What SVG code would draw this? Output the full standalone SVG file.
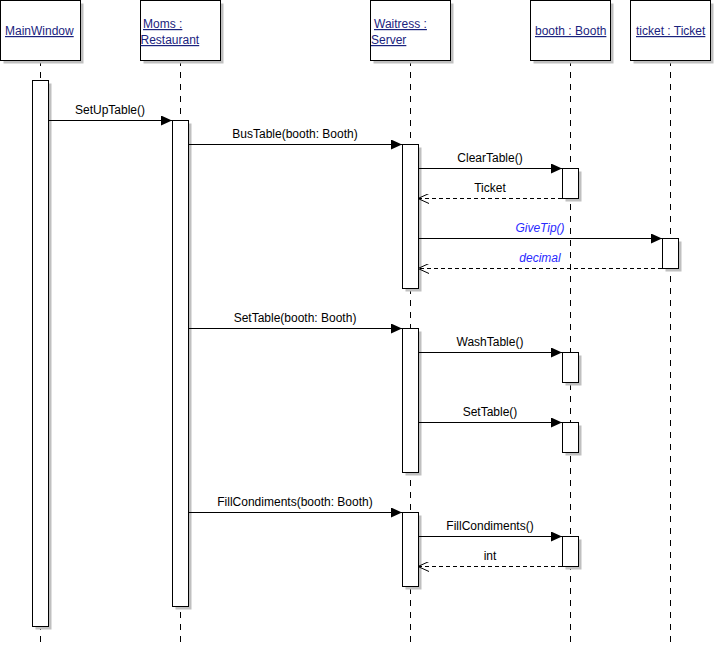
<svg xmlns="http://www.w3.org/2000/svg" width="715" height="651" viewBox="0 0 715 651">
<style>
.hdr{fill:#fff;stroke:#000;stroke-width:1}
.shd{fill:#c0c0c0}
.life{stroke:#000;stroke-width:1;stroke-dasharray:6,6;fill:none}
.act{fill:#fff;stroke:#000;stroke-width:1}
.msg{stroke:#000;stroke-width:1;fill:none}
.ret{stroke:#000;stroke-width:1;fill:none;stroke-dasharray:4,3}
.ht{font-family:"Liberation Sans",Arial,sans-serif;font-size:12px;fill:#1a237e;text-decoration:underline}
.mt{font-family:"Liberation Sans",Arial,sans-serif;font-size:12px;fill:#000;text-anchor:middle}
.bt{font-family:"Liberation Sans",Arial,sans-serif;font-size:12px;fill:#2a2aff;font-style:italic;text-anchor:middle}
</style>
<defs>
<marker id="filled" markerWidth="12" markerHeight="10" refX="11" refY="5" orient="auto" markerUnits="userSpaceOnUse">
<path d="M0,0 L11,5 L0,10 z" fill="#000"/>
</marker>
<marker id="open" markerWidth="12" markerHeight="10" refX="11" refY="5" orient="auto" markerUnits="userSpaceOnUse">
<path d="M0,0 L11,5 L0,10" fill="none" stroke="#000" stroke-width="1"/>
</marker>
</defs>
<g id="lifelines">
<line class="life" x1="40.5" y1="60" x2="40.5" y2="645"/>
<line class="life" x1="180.5" y1="60" x2="180.5" y2="645"/>
<line class="life" x1="410.5" y1="60" x2="410.5" y2="645"/>
<line class="life" x1="570.5" y1="60" x2="570.5" y2="645"/>
<line class="life" x1="670.5" y1="60" x2="670.5" y2="645"/>
</g>
<g id="MainWindow">
<rect class="shd" x="3.5" y="3.5" width="80" height="60"/>
<rect class="hdr" x="0.5" y="0.5" width="80" height="60"/>
<text class="ht" x="5" y="35">MainWindow</text>
<rect class="shd" x="35.5" y="83.5" width="16" height="546"/>
<rect class="act" x="32.5" y="80.5" width="16" height="546"/>
</g>
<g id="Moms">
<rect class="shd" x="143.5" y="3.5" width="80" height="60"/>
<rect class="hdr" x="140.5" y="0.5" width="80" height="60"/>
<text class="ht" x="143" y="28">Moms :</text>
<text class="ht" x="140.5" y="44">Restaurant</text>
<rect class="shd" x="175.5" y="123.5" width="16" height="486"/>
<rect class="act" x="172.5" y="120.5" width="16" height="486"/>
</g>
<g id="Waitress">
<rect class="shd" x="373.5" y="3.5" width="80" height="60"/>
<rect class="hdr" x="370.5" y="0.5" width="80" height="60"/>
<text class="ht" x="374" y="28">Waitress :</text>
<text class="ht" x="371" y="44">Server</text>
<rect class="shd" x="405.5" y="147.5" width="16" height="144"/>
<rect class="act" x="402.5" y="144.5" width="16" height="144"/>
<rect class="shd" x="405.5" y="331.5" width="16" height="144"/>
<rect class="act" x="402.5" y="328.5" width="16" height="144"/>
<rect class="shd" x="405.5" y="515.5" width="16" height="74"/>
<rect class="act" x="402.5" y="512.5" width="16" height="74"/>
</g>
<g id="booth">
<rect class="shd" x="533.5" y="3.5" width="80" height="60"/>
<rect class="hdr" x="530.5" y="0.5" width="80" height="60"/>
<text class="ht" x="535" y="35">booth : Booth</text>
<rect class="shd" x="565.5" y="171.5" width="16" height="30"/>
<rect class="act" x="562.5" y="168.5" width="16" height="30"/>
<rect class="shd" x="565.5" y="355.5" width="16" height="30"/>
<rect class="act" x="562.5" y="352.5" width="16" height="30"/>
<rect class="shd" x="565.5" y="425.5" width="16" height="30"/>
<rect class="act" x="562.5" y="422.5" width="16" height="30"/>
<rect class="shd" x="565.5" y="539.5" width="16" height="30"/>
<rect class="act" x="562.5" y="536.5" width="16" height="30"/>
</g>
<g id="ticket">
<rect class="shd" x="633.5" y="3.5" width="80" height="60"/>
<rect class="hdr" x="630.5" y="0.5" width="80" height="60"/>
<text class="ht" x="636" y="35">ticket : Ticket</text>
<rect class="shd" x="665.5" y="241.5" width="16" height="30"/>
<rect class="act" x="662.5" y="238.5" width="16" height="30"/>
</g>
<g id="connectors">
<line class="msg" x1="48" y1="120.5" x2="172" y2="120.5" marker-end="url(#filled)"/>
<text class="mt" x="110" y="114">SetUpTable()</text>
<line class="msg" x1="188" y1="144.5" x2="402" y2="144.5" marker-end="url(#filled)"/>
<text class="mt" x="295" y="138">BusTable(booth: Booth)</text>
<line class="msg" x1="418" y1="168.5" x2="562" y2="168.5" marker-end="url(#filled)"/>
<text class="mt" x="490" y="162">ClearTable()</text>
<line class="ret" x1="562" y1="198.5" x2="418" y2="198.5" marker-end="url(#open)"/>
<text class="mt" x="490" y="192">Ticket</text>
<line class="msg" x1="418" y1="238.5" x2="662" y2="238.5" marker-end="url(#filled)"/>
<text class="bt" x="540" y="232">GiveTip()</text>
<line class="ret" x1="662" y1="268.5" x2="418" y2="268.5" marker-end="url(#open)"/>
<text class="bt" x="540" y="262">decimal</text>
<line class="msg" x1="188" y1="328.5" x2="402" y2="328.5" marker-end="url(#filled)"/>
<text class="mt" x="295" y="322">SetTable(booth: Booth)</text>
<line class="msg" x1="418" y1="352.5" x2="562" y2="352.5" marker-end="url(#filled)"/>
<text class="mt" x="490" y="346">WashTable()</text>
<line class="msg" x1="418" y1="422.5" x2="562" y2="422.5" marker-end="url(#filled)"/>
<text class="mt" x="490" y="416">SetTable()</text>
<line class="msg" x1="188" y1="512.5" x2="402" y2="512.5" marker-end="url(#filled)"/>
<text class="mt" x="295" y="506">FillCondiments(booth: Booth)</text>
<line class="msg" x1="418" y1="536.5" x2="562" y2="536.5" marker-end="url(#filled)"/>
<text class="mt" x="490" y="530">FillCondiments()</text>
<line class="ret" x1="562" y1="566.5" x2="418" y2="566.5" marker-end="url(#open)"/>
<text class="mt" x="490" y="560">int</text>
</g>
</svg>
